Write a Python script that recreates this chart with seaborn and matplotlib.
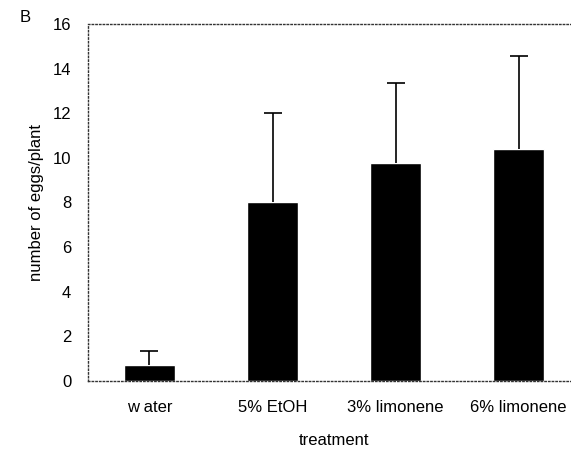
import matplotlib
matplotlib.use("Agg")
import matplotlib.pyplot as plt
import seaborn as sns

treatments = ["w ater", "5% EtOH", "3% limonene", "6% limonene"]
eggs_mean = [0.7, 8.03, 9.75, 10.4]
eggs_err = [0.62, 3.97, 3.62, 4.17]

sns.set_style("white", {"text.color": "black", "axes.labelcolor": "black",
                        "xtick.color": "black", "ytick.color": "black"})
plt.rcParams["font.family"] = ["Liberation Sans", "DejaVu Sans"]

fig = plt.figure(figsize=(5.71, 4.54), dpi=100)
ax = fig.add_axes([0.154, 0.161, 0.862, 0.786])

sns.barplot(x=treatments, y=eggs_mean, color="black", width=0.42,
            saturation=1, ax=ax)
eb = ax.errorbar(range(len(treatments)), eggs_mean,
                 yerr=[[0] * len(eggs_err), eggs_err],
                 fmt="none", ecolor="black", elinewidth=1.2,
                 capsize=6.5, capthick=1.2)
# keep only the upper caps
eb.lines[1][0].set_visible(False)

ax.set_xlim(-0.5, 3.5)
ax.set_ylim(0, 16)
ax.set_yticks(range(0, 17, 2))
ax.tick_params(axis="both", length=0, labelsize=12)
ax.tick_params(axis="y", pad=12)
ax.tick_params(axis="x", pad=14)
ax.set_xlabel("treatment", fontsize=12, labelpad=13)
ax.set_ylabel("number of eggs/plant", fontsize=12, labelpad=6)

for side in ["left", "top", "bottom"]:
    ax.spines[side].set_linestyle(":")
    ax.spines[side].set_linewidth(1)
    ax.spines[side].set_color("#333333")
ax.spines["right"].set_visible(False)

fig.text(0.035, 0.952, "B", fontsize=12)

fig.savefig("out.png", dpi=100)
